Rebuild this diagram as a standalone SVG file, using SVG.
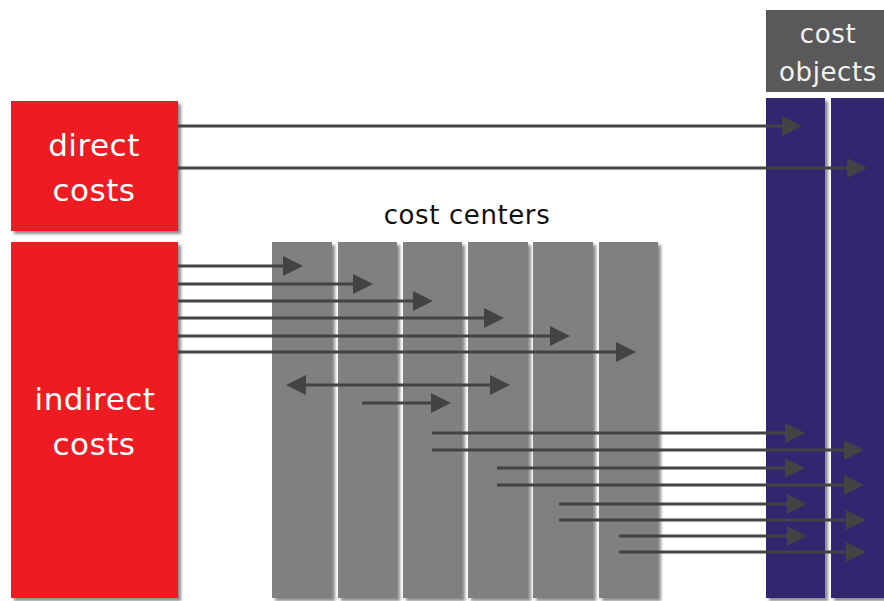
<svg xmlns="http://www.w3.org/2000/svg" width="884" height="601" viewBox="0 0 884 601">
  <defs>
    <filter id="shadow" x="-10%" y="-5%" width="130%" height="115%">
      <feDropShadow dx="3" dy="3" stdDeviation="1.8" flood-color="#000" flood-opacity="0.45"/>
    </filter>
    <marker id="head" markerUnits="userSpaceOnUse" markerWidth="20" markerHeight="20" refX="10" refY="10" orient="auto-start-reverse">
      <path d="M0,0 L20,10 L0,20 z" fill="#434343"/>
    </marker>
    <style>
      .cost { fill: #ed1c24; filter: url(#shadow); }
      .center { fill: #808080; filter: url(#shadow); }
      .object { fill: #332870; filter: url(#shadow); }
      .white { font-family: "DejaVu Sans", "Liberation Sans", sans-serif; font-size: 31px; letter-spacing: 0.5px; fill: #ffffff; text-anchor: middle; }
      .label { font-family: "DejaVu Sans", "Liberation Sans", sans-serif; font-size: 26px; letter-spacing: 0.6px; text-anchor: middle; }
      .flow line { stroke: #434343; stroke-width: 3; marker-end: url(#head); }
    </style>
  </defs>

  <rect width="884" height="601" fill="#ffffff"/>

  <g id="direct-costs">
    <rect class="cost" x="11" y="101" width="167" height="130"/>
    <text class="white" x="94" y="156">direct</text>
    <text class="white" x="94" y="201">costs</text>
  </g>

  <g id="indirect-costs">
    <rect class="cost" x="11" y="242" width="167" height="356"/>
    <text class="white" x="95" y="410">indirect</text>
    <text class="white" x="94" y="455">costs</text>
  </g>

  <g id="cost-centers">
    <text class="label" x="467" y="224" fill="#111111">cost centers</text>
    <rect class="center" x="272" y="242" width="60" height="356"/>
    <rect class="center" x="338" y="242" width="59" height="356"/>
    <rect class="center" x="403" y="242" width="59" height="356"/>
    <rect class="center" x="468" y="242" width="60" height="356"/>
    <rect class="center" x="533" y="242" width="60" height="356"/>
    <rect class="center" x="599" y="242" width="59" height="356"/>
  </g>

  <g id="cost-objects">
    <rect x="766" y="10" width="118" height="82" fill="#595959"/>
    <text class="label" x="828" y="43" fill="#f2f2f2">cost</text>
    <text class="label" x="828" y="81" fill="#f2f2f2">objects</text>
    <rect class="object" x="766" y="98" width="59" height="500"/>
    <rect class="object" x="831" y="98" width="56" height="500"/>
  </g>

  <g id="connectors" class="flow">
    <!-- direct costs straight to cost objects -->
    <line x1="178" y1="126" x2="792" y2="126"/>
    <line x1="178" y1="168" x2="857" y2="168"/>
    <!-- indirect costs into cost centers -->
    <line x1="178" y1="266" x2="293" y2="266"/>
    <line x1="178" y1="284" x2="363" y2="284"/>
    <line x1="178" y1="301" x2="423" y2="301"/>
    <line x1="178" y1="318" x2="494" y2="318"/>
    <line x1="178" y1="336" x2="560" y2="336"/>
    <line x1="178" y1="352" x2="626" y2="352"/>
    <!-- exchanges between cost centers -->
    <line x1="296" y1="385" x2="500" y2="385" marker-start="url(#head)"/>
    <line x1="362" y1="403" x2="441" y2="403"/>
    <!-- cost centers to cost objects -->
    <line x1="432" y1="433" x2="795" y2="433"/>
    <line x1="432" y1="450" x2="854" y2="450"/>
    <line x1="497" y1="468" x2="795" y2="468"/>
    <line x1="497" y1="485" x2="854" y2="485"/>
    <line x1="559" y1="504" x2="797" y2="504"/>
    <line x1="559" y1="520" x2="856" y2="520"/>
    <line x1="619" y1="536" x2="797" y2="536"/>
    <line x1="619" y1="552" x2="856" y2="552"/>
  </g>
</svg>
